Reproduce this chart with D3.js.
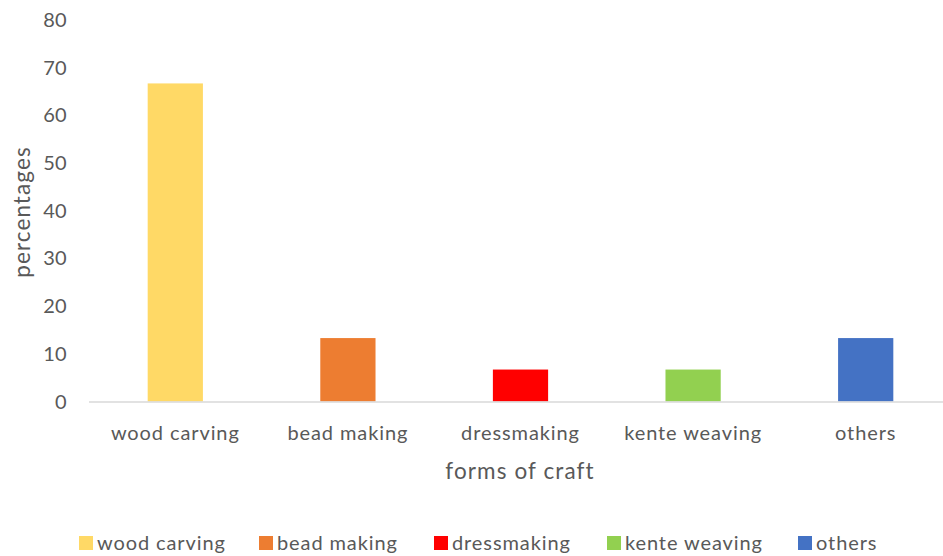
<!DOCTYPE html>
<html>
<head>
<meta charset="utf-8">
<script src="https://cdn.jsdelivr.net/npm/d3@7"></script>
<style>
  html, body { margin: 0; padding: 0; background: #fff; }
  svg { display: block; }
  text { font-family: Lato, "Open Sans", sans-serif; fill: #595959; }
</style>
</head>
<body>
<svg id="chart" width="943" height="556"></svg>
<script>
// Share of respondents by form of craft (%)
const categories = ["wood carving", "bead making", "dressmaking", "kente weaving", "others"];
const percentages = [66.7, 13.3, 6.7, 6.7, 13.3];
const colors = ["#FFD966", "#ED7D31", "#FF0000", "#92D050", "#4472C4"];
const yTicks = [0, 10, 20, 30, 40, 50, 60, 70, 80];

const svg = d3.select("#chart");
const fontSize = 20;
const spacing = "0.9px";

const x = d3.scaleBand()
  .domain(categories)
  .range([89, 952])
  .paddingInner(0.68)
  .paddingOuter(0.34);

const y = d3.scaleLinear()
  .domain([0, 80])
  .range([401.5, 20]);

// y tick labels (no gridlines)
svg.append("g")
  .selectAll("text")
  .data(yTicks)
  .join("text")
  .attr("x", 67)
  .attr("y", d => y(d))
  .attr("dy", "0.35em")
  .attr("text-anchor", "end")
  .style("font-size", fontSize + "px")
  .style("letter-spacing", "0.3px")
  .text(d => d);

// bars
svg.append("g")
  .selectAll("rect")
  .data(categories)
  .join("rect")
  .attr("x", d => x(d))
  .attr("width", x.bandwidth())
  .attr("y", (d, i) => y(percentages[i]))
  .attr("height", (d, i) => y(0) - y(percentages[i]))
  .attr("fill", (d, i) => colors[i]);

// x axis baseline
svg.append("line")
  .attr("x1", 89).attr("x2", 952)
  .attr("y1", y(0) + 0.5).attr("y2", y(0) + 0.5)
  .attr("stroke", "#D9D9D9")
  .attr("stroke-width", 1.5);

// category labels
svg.append("g")
  .selectAll("text")
  .data(categories)
  .join("text")
  .attr("x", d => x(d) + x.bandwidth() / 2)
  .attr("y", 433)
  .attr("dy", "0.35em")
  .attr("text-anchor", "middle")
  .style("font-size", fontSize + "px")
  .style("letter-spacing", spacing)
  .text(d => d);

// axis titles
svg.append("text")
  .attr("x", 520)
  .attr("y", 471)
  .attr("dy", "0.35em")
  .attr("text-anchor", "middle")
  .style("font-size", "22.5px")
  .style("letter-spacing", "1.1px")
  .text("forms of craft");

svg.append("text")
  .attr("transform", "translate(22,212) rotate(-90)")
  .attr("dy", "0.35em")
  .attr("text-anchor", "middle")
  .style("font-size", "22.5px")
  .style("letter-spacing", "1.1px")
  .text("percentages");

// legend
const legendX = [79, 259, 434, 607, 798];
const legend = svg.append("g")
  .selectAll("g")
  .data(categories)
  .join("g")
  .attr("transform", (d, i) => `translate(${legendX[i]},543)`);

legend.append("rect")
  .attr("x", 0).attr("y", -7)
  .attr("width", 14).attr("height", 14)
  .attr("fill", (d, i) => colors[i]);

legend.append("text")
  .attr("x", 18)
  .attr("y", 0)
  .attr("dy", "0.35em")
  .style("font-size", fontSize + "px")
  .style("letter-spacing", spacing)
  .text(d => d);
</script>
</body>
</html>
